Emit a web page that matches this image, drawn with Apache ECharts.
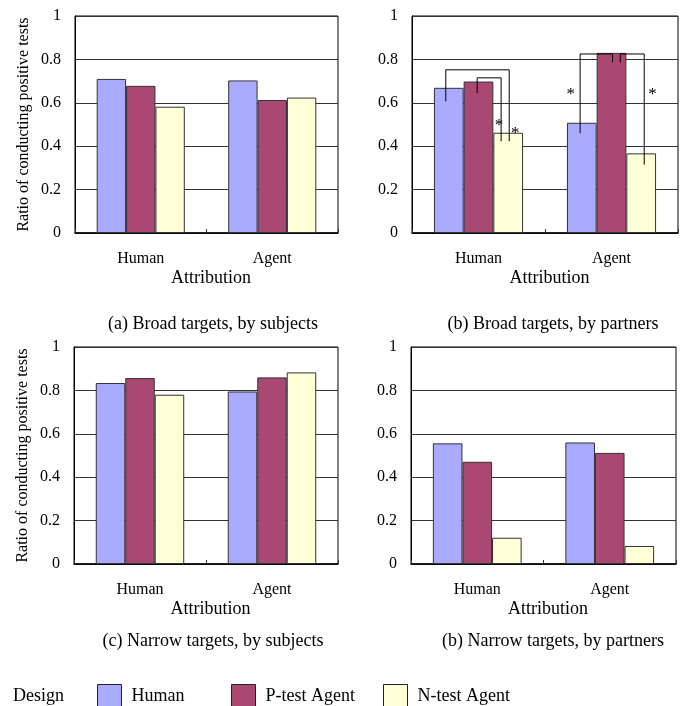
<!DOCTYPE html>
<html>
<head>
<meta charset="utf-8">
<script src="https://cdn.jsdelivr.net/npm/echarts@6/dist/echarts.min.js"></script>
<style>
  html, body { margin: 0; padding: 0; background: #fff; }
  #chart { width: 691px; height: 706px; }
</style>
</head>
<body>
<div id="chart"></div>
<script>
const categories = ['Human', 'Agent'];
const designs = ['Human', 'P-test Agent', 'N-test Agent'];
const yTicks = [0, 0.2, 0.4, 0.6, 0.8, 1];

// one row per design, one value per attribution
const broadSubjects = [[0.710, 0.703], [0.678, 0.613], [0.582, 0.624]];
const broadPartners = [[0.669, 0.508], [0.698, 0.830], [0.462, 0.367]];
const narrowSubjects = [[0.834, 0.795], [0.857, 0.860], [0.780, 0.883]];
const narrowPartners = [[0.556, 0.560], [0.471, 0.512], [0.121, 0.083]];

const captions = [
    '(a) Broad targets, by subjects',
    '(b) Broad targets, by partners',
    '(c) Narrow targets, by subjects',
    '(b) Narrow targets, by partners'
];

// significance brackets on panel (b): category, from, to (fraction of band), top, left foot, right foot
const brackets = [
    [0, -0.246, 0.231, 0.752, 0.606, 0.423],
    [0, -0.010, 0.170, 0.715, 0.644, 0.423],
    [1, -0.236, 0.008, 0.825, 0.460, 0.787],
    [1, 0.066, 0.246, 0.825, 0.787, 0.315]
];
// asterisks: category, offset (fraction of band), value
const stars = [
    [0, 0.155, 0.506],
    [0, 0.276, 0.469],
    [1, -0.306, 0.649],
    [1, 0.309, 0.649]
];

const colors = ['#aaaaff', '#a84873', '#ffffd8'];
const font = "'Liberation Serif', 'Times New Roman', serif";

const panels = [broadSubjects, broadPartners, narrowSubjects, narrowPartners];
const grids = [
    { left: 75, top: 16, width: 263, height: 217 },
    { left: 412, top: 16, width: 266, height: 217 },
    { left: 74, top: 347, width: 264, height: 217 },
    { left: 411, top: 347, width: 265, height: 217 }
];
const captionPos = [[213, 315], [553, 315], [213, 632], [553, 632]];

const chart = echarts.init(document.getElementById('chart'));

const series = [];
panels.forEach((panel, gi) => {
    panel.forEach((vals, si) => {
        series.push({
            name: designs[si],
            type: 'bar',
            xAxisIndex: gi,
            yAxisIndex: gi,
            data: vals,
            barGap: '0%',
            barCategoryGap: '33%',
            itemStyle: { color: colors[si], borderColor: '#333', borderWidth: 1 },
            z: 2
        });
    });
});

series.push({
    type: 'custom',
    xAxisIndex: 1,
    yAxisIndex: 1,
    data: brackets,
    encode: { x: 0, y: 3 },
    z: 5,
    renderItem: (params, api) => {
        const cat = api.value(0);
        const c = api.coord([cat, 0]);
        const band = api.size([1, 0])[0];
        const x1 = c[0] + api.value(1) * band;
        const x2 = c[0] + api.value(2) * band;
        const yTop = api.coord([cat, api.value(3)])[1];
        const yL = api.coord([cat, api.value(4)])[1];
        const yR = api.coord([cat, api.value(5)])[1];
        return {
            type: 'polyline',
            shape: { points: [[x1, yL], [x1, yTop], [x2, yTop], [x2, yR]] },
            style: { stroke: '#000', lineWidth: 1, fill: null }
        };
    }
});

series.push({
    type: 'custom',
    xAxisIndex: 1,
    yAxisIndex: 1,
    data: stars,
    encode: { x: 0, y: 2 },
    z: 5,
    renderItem: (params, api) => {
        const cat = api.value(0);
        const c = api.coord([cat, api.value(2)]);
        const band = api.size([1, 0])[0];
        return {
            type: 'text',
            x: c[0] + api.value(1) * band,
            y: c[1] + 2,
            style: {
                text: '*', fill: '#000', font: '17px ' + font,
                align: 'center', verticalAlign: 'middle'
            }
        };
    }
});

const legendBase = {
    top: 684,
    padding: 0,
    itemWidth: 24,
    itemHeight: 24,
    icon: 'rect',
    selectedMode: false,
    itemStyle: { borderColor: '#222', borderWidth: 1 },
    textStyle: { fontFamily: font, fontSize: 18, color: '#000', padding: [0, 0, 0, 5] }
};

chart.setOption({
    animation: false,
    backgroundColor: '#fff',
    title: captions.map((t, i) => ({
        text: t,
        left: captionPos[i][0],
        top: captionPos[i][1],
        textAlign: 'center',
        padding: 0,
        textStyle: { fontFamily: font, fontSize: 18, fontWeight: 'normal', color: '#000' }
    })),
    legend: [
        Object.assign({}, legendBase, { data: ['Human'], left: 97 }),
        Object.assign({}, legendBase, { data: ['P-test Agent'], left: 231 }),
        Object.assign({}, legendBase, { data: ['N-test Agent'], left: 383 })
    ],
    graphic: [{
        type: 'text',
        left: 13,
        top: 687,
        style: { text: 'Design', font: '18px ' + font, fill: '#000' }
    }],
    grid: grids.map(g => Object.assign({
        show: true,
        borderColor: '#000',
        borderWidth: 1,
        outerBoundsMode: 'none'
    }, g)),
    xAxis: grids.map((g, i) => ({
        type: 'category',
        gridIndex: i,
        data: categories,
        name: 'Attribution',
        nameLocation: 'middle',
        nameGap: 36,
        nameTextStyle: { fontFamily: font, fontSize: 18, color: '#000', padding: [0, 0, 0, 9] },
        axisLine: { lineStyle: { color: '#000', width: 1.5 } },
        axisTick: { show: true, inside: true, length: 4, lineStyle: { color: '#333' } },
        axisLabel: { fontFamily: font, fontSize: 16, color: '#000', margin: 18 },
        splitLine: { show: false }
    })),
    yAxis: grids.map((g, i) => ({
        type: 'value',
        gridIndex: i,
        min: yTicks[0],
        max: yTicks[yTicks.length - 1],
        interval: 0.2,
        name: i % 2 === 0 ? 'Ratio of conducting positive tests' : '',
        nameLocation: 'middle',
        nameRotate: 90,
        nameGap: 43,
        nameTextStyle: { fontFamily: font, fontSize: 16, color: '#000' },
        axisLine: { show: true, lineStyle: { color: '#000', width: 1 } },
        axisTick: { show: false },
        axisLabel: { fontFamily: font, fontSize: 16, color: '#000', margin: 14 },
        splitLine: { show: true, lineStyle: { color: '#333', width: 1 } }
    })),
    series: series
});
</script>
</body>
</html>
